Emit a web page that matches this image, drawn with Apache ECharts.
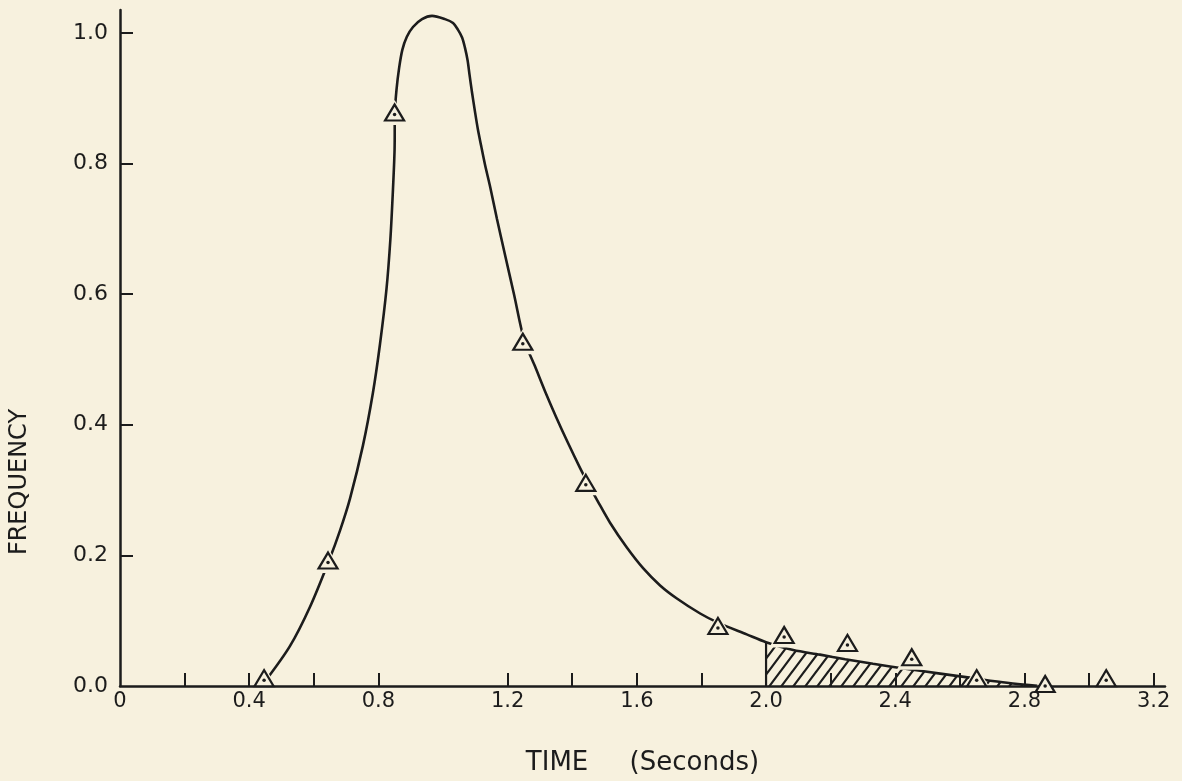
<!DOCTYPE html>
<html>
<head>
<meta charset="utf-8">
<script src="https://cdn.jsdelivr.net/npm/echarts@6/dist/echarts.min.js"></script>
<style>
  html, body { margin: 0; padding: 0; background: #f7f1de; }
  #chart { width: 1182px; height: 781px; }
</style>
</head>
<body>
<div id="chart"></div>
<script>
// ---- data ----
const curveX = [0.452, 0.526, 0.588, 0.647, 0.681, 0.712, 0.752, 0.783, 0.805, 0.825, 0.837, 0.845, 0.850, 0.851,
  0.856, 0.864, 0.874, 0.888, 0.907, 0.935, 0.966, 1.006, 1.031, 1.046, 1.059, 1.068, 1.076, 1.082, 1.090, 1.099,
  1.108, 1.118, 1.130, 1.146, 1.167, 1.192, 1.220, 1.251, 1.285, 1.316, 1.350, 1.387, 1.424, 1.446, 1.480, 1.517,
  1.569, 1.620, 1.672, 1.724, 1.796, 1.851, 1.940, 2.0, 2.084, 2.167, 2.245, 2.331, 2.437, 2.539, 2.641, 2.746, 2.848];
const curveY = [0.009, 0.061, 0.121, 0.192, 0.238, 0.287, 0.368, 0.449, 0.524, 0.608, 0.684, 0.760, 0.821, 0.878,
  0.913, 0.946, 0.974, 0.994, 1.009, 1.021, 1.026, 1.021, 1.015, 1.005, 0.993, 0.977, 0.958, 0.936, 0.908, 0.879,
  0.852, 0.827, 0.798, 0.764, 0.715, 0.660, 0.599, 0.530, 0.489, 0.451, 0.412, 0.372, 0.334, 0.313, 0.282, 0.250,
  0.212, 0.180, 0.154, 0.134, 0.111, 0.097, 0.079, 0.067, 0.055, 0.048, 0.041, 0.034, 0.026, 0.019, 0.012, 0.005, 0.0];
const obsX = [0.446, 0.644, 0.850, 1.247, 1.442, 1.851, 2.056, 2.252, 2.451, 2.652, 2.864, 3.053];
const obsY = [0.012, 0.192, 0.878, 0.527, 0.311, 0.092, 0.078, 0.066, 0.044, 0.012, 0.003, 0.012];
const hatchFrom = 2.0;
const xTickValues = [0.2, 0.4, 0.6, 0.8, 1.2, 1.4, 1.6, 1.8, 2.0, 2.2, 2.4, 2.6, 2.8, 3.0, 3.2];
const xLabelValues = [0, 0.4, 0.8, 1.2, 1.6, 2.0, 2.4, 2.8, 3.2];
const yTickValues = [0.2, 0.4, 0.6, 0.8, 1.0];
const yLabelValues = [0, 0.2, 0.4, 0.6, 0.8, 1.0];
const xName = 'TIME     (Seconds)';
const yName = 'FREQUENCY';

// ---- styling ----
const BG = '#f7f1de';
const INK = '#1c1c1c';
const FONT = 'DejaVu Sans';

const curveData = curveX.map((x, i) => [x, curveY[i]]);
const hatchData = curveData.filter(p => p[0] >= hatchFrom);
const edgeData = [[hatchFrom, 0], [hatchFrom, curveY[curveX.indexOf(hatchFrom)]]];
const obsData = obsX.map((x, i) => [x, obsY[i]]);

// hatch pattern
const pc = document.createElement('canvas');
pc.width = 12; pc.height = 16;
const g = pc.getContext('2d');
g.strokeStyle = INK; g.lineWidth = 2.2; g.lineCap = 'square';
for (const o of [-12, 0, 12]) {
  g.beginPath(); g.moveTo(o, 16); g.lineTo(o + 12, 0); g.stroke();
}

const chart = echarts.init(document.getElementById('chart'), null, { renderer: 'canvas' });
chart.setOption({
  backgroundColor: BG,
  animation: false,
  grid: { left: 120, right: 17, top: 10, bottom: 93, containLabel: false },
  xAxis: {
    type: 'value', min: 0, max: 3.235, z: 3,
    name: xName, nameLocation: 'middle', nameGap: 64,
    nameTextStyle: { fontFamily: FONT, fontSize: 26, color: INK },
    axisLine: { show: true, lineStyle: { color: INK, width: 2.5 } },
    axisTick: { show: true, inside: true, length: 13, customValues: xTickValues, lineStyle: { color: INK, width: 2 } },
    axisLabel: {
      show: true, customValues: xLabelValues, margin: 5,
      fontFamily: FONT, fontSize: 21, color: INK,
      formatter: v => (Math.abs(v) < 1e-9 ? '0' : v.toFixed(1))
    },
    splitLine: { show: false }
  },
  yAxis: {
    type: 'value', min: 0, max: 1.035, z: 3,
    axisLine: { show: true, lineStyle: { color: INK, width: 2.5 } },
    axisTick: { show: true, inside: true, length: 13, customValues: yTickValues, lineStyle: { color: INK, width: 2 } },
    axisLabel: {
      show: true, customValues: yLabelValues, margin: 12,
      fontFamily: FONT, fontSize: 22, color: INK,
      formatter: v => v.toFixed(1)
    },
    splitLine: { show: false }
  },
  graphic: [{
    type: 'text', x: 20, y: 482, rotation: Math.PI / 2,
    style: { text: yName, x: 0, y: 0, align: 'center', verticalAlign: 'middle', font: '24px "DejaVu Sans"', fill: INK }
  }],
  series: [
    {
      type: 'line', data: hatchData, smooth: 0.3, symbol: 'none', z: 1,
      lineStyle: { width: 0, opacity: 0 },
      areaStyle: { color: { image: pc, repeat: 'repeat' }, opacity: 1, origin: 'start' }
    },
    {
      type: 'line', data: edgeData, symbol: 'none', z: 1,
      lineStyle: { color: INK, width: 2.2 }
    },
    {
      type: 'line', data: curveData, smooth: 0.3, symbol: 'none', z: 1,
      lineStyle: { color: INK, width: 2.6 }
    },
    {
      type: 'scatter', data: obsData, symbol: 'triangle', symbolSize: [30, 25], z: 2,
      itemStyle: { color: BG, borderWidth: 0, opacity: 1 }
    },
    {
      type: 'scatter', data: obsData, symbol: 'triangle', symbolSize: [19, 16], z: 4,
      itemStyle: { color: BG, borderColor: INK, borderWidth: 2.2, opacity: 1 }
    },
    {
      type: 'scatter', data: obsData, symbol: 'circle', symbolSize: 3.5, symbolOffset: [0, 2], z: 5,
      itemStyle: { color: INK, opacity: 1 }
    }
  ]
});
</script>
</body>
</html>
